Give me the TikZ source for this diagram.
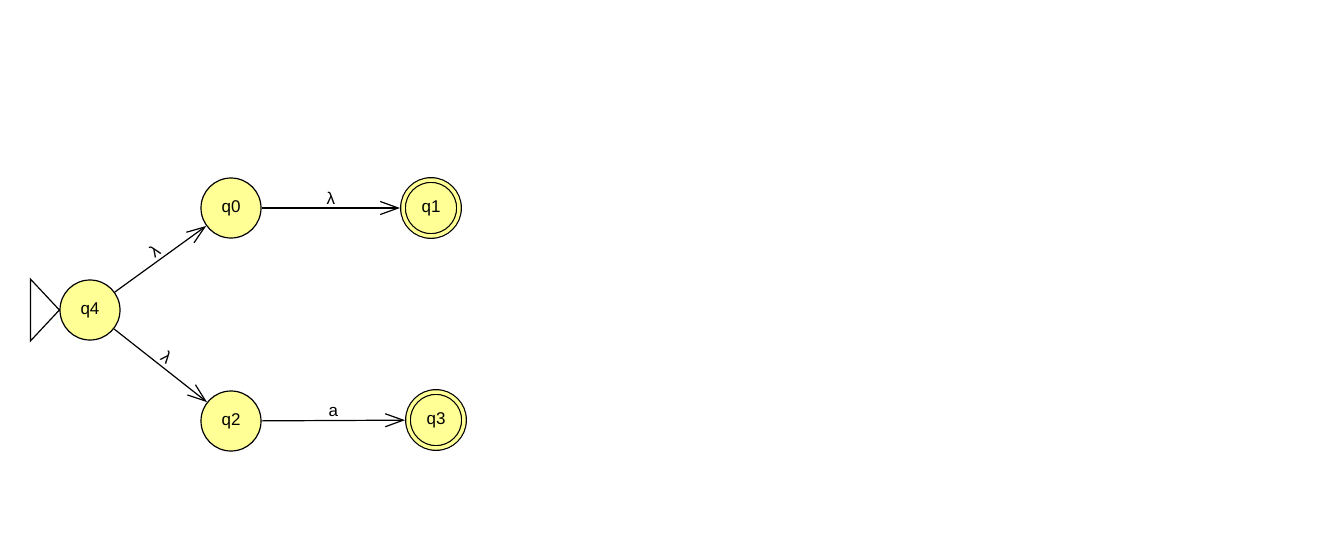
\documentclass[tikz,border=0pt]{standalone}
\usepackage{fontspec}
\setmainfont{Liberation Sans}
\usetikzlibrary{arrows.meta}
\definecolor{statefill}{RGB}{255,255,150}

\begin{document}
\begin{tikzpicture}[
  x=1pt, y=-1pt,
  state/.style={circle, draw=black, line width=1.2pt, fill=statefill,
                minimum size=60pt, inner sep=0pt,
                font=\fontsize{17}{20}\selectfont},
  accept/.style={state, double=statefill, double distance=3.5pt,
                 minimum size=56pt, outer sep=3pt},
  arr/.style={-{Straight Barb[length=18pt, width=13pt, line width=1.2pt]}, line width=1.2pt},
  lbl/.style={midway, sloped, above, font=\fontsize{17}{20}\selectfont}
]
\useasboundingbox (0,0) rectangle (1339,555);

\node[state] (q4) at (90,310) {q4};
\node[state] (q0) at (231,208) {q0};
\node[accept] (q1) at (431,208) {q1};
\node[state] (q2) at (231,421) {q2};
\node[accept] (q3) at (436,420) {q3};

% initial marker
\draw[line width=1.2pt] (q4.west) -- ++(-29,-31) -- ++(0,62) -- cycle;

\draw[arr] (q4) -- (q0) node[lbl] {λ};
\draw[arr] (q4) -- (q2) node[lbl] {λ};
\draw[arr] (q0) -- (q1) node[lbl] {λ};
\draw[arr] (q2) -- (q3) node[lbl] {a};
\end{tikzpicture}
\end{document}
